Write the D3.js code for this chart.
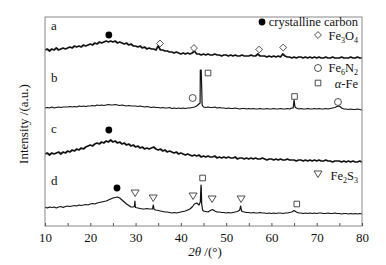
<!DOCTYPE html>
<html>
<head>
<meta charset="utf-8">
<script src="https://cdn.jsdelivr.net/npm/d3@7"></script>
<style>
  body { margin: 0; background: #fff; }
  svg text { font-family: "Liberation Serif", "Times New Roman", serif; fill: #111; }
</style>
</head>
<body>
<div id="chart"></div>
<script>
// 2theta grid, 10..80 every 0.5 deg
const angles = d3.range(10, 80.001, 0.5);
const majorTicks = [10, 20, 30, 40, 50, 60, 70, 80];
const minorTicks = [15, 25, 35, 45, 55, 65, 75];

// curve a (baseline 168)
const seriesA = [
  8,9,7,9,8,10,8,9,10,9,
  10,11,10,12,11,12,11,13,12,13,
  14,13,15,14,16,15,16,17,16,17,
  16,17,15,16,15,14,15,13,14,12,
  12,11,12,10,11,9,10,9,9,8,
  12,8,8,7,7,6,6,5,6,5,
  4,5,4,5,4,5,7,4,4,3,
  4,3,4,3,3,4,3,3,2,3,
  3,2,3,2,3,2,2,3,2,2,
  2,3,2,2,4,2,2,2,1,2,
  1,2,1,2,1,4,2,1,1,0,
  1,0,1,1,0,1,0,1,0,1,
  0,1,0,0,1,0,0,1,0,0,
  0,1,0,0,0,1,0,0,1,0,
  0
];
// curve b (baseline 116)
const seriesB = [
  2,2.5,2,3,2,2.5,3,2.5,3,3,
  3,3.5,3,3.5,3,4,3.5,4,3.5,4,
  4,4.5,4,5,4.5,5,4.5,5,5.5,5,
  5,5.5,5,4.5,5,4.5,4,4.5,4,4,
  4,3.5,4,3.5,3,3.5,3,2.5,3,2.5,
  2.5,2,2.5,2,2,2.5,1.5,2,1.5,2,
  1.5,2,1.5,2,2,2.5,3,4,6,40,
  3,2.5,3,2.5,2.5,3,2,2.5,2,2,
  1.5,2,1.5,1.5,2,1.5,1,1.5,1.5,1,
  1.5,1,1.5,1,1,1.5,1,1,1.5,1,
  1,1.5,1,1,1.5,1,1,1.5,1,2,
  10,2,1,1.5,1,1,1.5,1,1,1.5,
  1,1.5,1,1,1.5,1,1.5,2,2.5,3.5,
  4,2,1,1,0.5,1,0.5,0.5,1,0.5,
  0
];
// curve c (baseline 64)
const seriesC = [
  8,9,7,9,8,9,10,8,10,9,
  11,10,12,11,13,12,14,13,15,16,
  17,16,18,19,18,20,19,21,20,22,
  20,21,19,20,18,19,17,18,16,17,
  15,16,14,15,13,14,13,14,15,13,
  12,13,11,12,10,11,10,9,10,8,
  9,8,7,8,7,6,7,6,7,5,
  6,5,6,5,5,6,4,5,4,5,
  4,5,4,4,5,3,4,4,3,4,
  3,4,3,4,3,3,4,3,2,3,
  3,2,3,2,3,2,2,3,2,2,
  2,1,2,2,1,2,1,2,1,2,
  1,2,1,1,2,1,1,0,1,1,
  1,0,1,0,1,0,1,0,0,1,
  0
];
// curve d (baseline 12)
const seriesD = [
  7,6,7,6.5,7,6,7,7.5,6.5,7.5,
  8,7.5,8,8.5,8,9,8.5,9,9.5,9,
  10,10.5,10,11,11.5,12,12.5,13,14,15,
  16,16.5,17,16,14,12,10,8.5,7,7,
  6.5,6,5.5,5,5,5.5,5,5,7,4,
  3.5,3,2.5,2,2,1.5,1,1.5,1,1.5,
  2,2.5,3,4,5,7,10,11,9,27,
  3,2.5,2,3.5,4.5,3,2,2,1.5,1.5,
  1,1.5,1,1.5,2,2.5,4,2.5,2,1.5,
  1.5,1,1.5,1,1,1.5,1,1,0.5,1,
  0.5,1,0.5,1,1,0.5,1,1,1.5,2,
  3.5,2,1,1,0.5,1,0.5,1,0.5,1,
  0.5,1,1,0.5,0.5,1,0.5,0.5,1,0.5,
  0.5,0,0.5,0.5,0,0.5,0,0.5,0,0.5,
  0
];

// narrow reflections between grid points: [2theta, value]
const peaksA = [];
const peaksB = [[44.25, 7], [44.3, 40], [44.7, 5], [64.8, 2], [65.2, 3]];
const peaksC = [];
const peaksD = [[29.75, 7.5], [29.85, 13], [29.95, 7], [33.75, 5], [33.9, 9], [34.1, 4.5],
                [44.3, 12], [44.45, 29], [44.6, 10], [44.8, 4], [53.2, 8], [53.4, 3.5]];

const offsets = { a: 168, b: 116, c: 64, d: 12 };
const curveNames = ["a", "b", "c", "d"];

// phase markers: [series, 2theta, height above baseline, symbol]
const markers = [
  ["a", 24.1, 23, "carbon"], ["a", 35.4, 14.5, "fe3o4"], ["a", 42.9, 10, "fe3o4"],
  ["a", 57.3, 8.5, "fe3o4"], ["a", 62.6, 10.5, "fe3o4"],
  ["b", 42.6, 12, "fe6n2"], ["b", 46, 37, "fe"], ["b", 65.1, 13.5, "fe"], ["b", 74.7, 8, "fe6n2"],
  ["c", 24.1, 32, "carbon"],
  ["d", 25.9, 26, "carbon"], ["d", 29.9, 21, "fe2s3"], ["d", 33.9, 16, "fe2s3"],
  ["d", 42.7, 18, "fe2s3"], ["d", 44.8, 36, "fe"], ["d", 46.9, 15, "fe2s3"],
  ["d", 53.3, 15, "fe2s3"], ["d", 65.6, 10, "fe"]
];

const width = 386, height = 265;
const margin = { top: 17, right: 24, bottom: 39, left: 45 };

const svg = d3.select("#chart").append("svg")
  .attr("width", width).attr("height", height);

const x = d3.scaleLinear([10, 80], [margin.left, width - margin.right]);
const y = d3.scaleLinear([0, 209], [height - margin.bottom, margin.top]);

function buildCurve(vals, peaks, off) {
  const pts = angles.map((a, i) => [a, vals[i] + off]);
  peaks.forEach(p => pts.push([p[0], p[1] + off]));
  return pts.sort((p, q) => p[0] - q[0]);
}

const curves = [
  buildCurve(seriesA, peaksA, offsets.a),
  buildCurve(seriesB, peaksB, offsets.b),
  buildCurve(seriesC, peaksC, offsets.c),
  buildCurve(seriesD, peaksD, offsets.d)
];

const line = d3.line().x(d => x(d[0])).y(d => y(d[1]));

svg.append("g")
  .selectAll("path")
  .data(curves)
  .join("path")
  .attr("d", line)
  .attr("fill", "none")
  .attr("stroke", "#111")
  .attr("stroke-width", (d, i) => (i == 0 || i == 2) ? 1.7 : 1.2)
  .attr("stroke-linejoin", "round");

// symbols
const symbolPath = {
  carbon: d3.symbol(d3.symbolCircle, 36)(),
  fe3o4: d3.symbol(d3.symbolDiamond2, 30)(),
  fe6n2: d3.symbol(d3.symbolCircle, 38)(),
  fe: d3.symbol(d3.symbolSquare2, 40)(),
  fe2s3: "M-4,-3L4,-3L0,3.5Z"
};

function drawSymbol(g, kind) {
  g.append("path")
    .attr("d", symbolPath[kind])
    .attr("fill", kind == "carbon" ? "#000" : "#fff")
    .attr("stroke", "#222")
    .attr("stroke-width", kind == "carbon" ? 0 : 0.8);
}

svg.append("g")
  .selectAll("g")
  .data(markers)
  .join("g")
  .attr("transform", d => `translate(${x(d[1])},${y(offsets[d[0]] + d[2])})`)
  .each(function(d) { drawSymbol(d3.select(this), d[3]); });

// frame
svg.append("rect")
  .attr("x", margin.left).attr("y", margin.top)
  .attr("width", width - margin.left - margin.right)
  .attr("height", height - margin.bottom - margin.top)
  .attr("fill", "none").attr("stroke", "#888").attr("stroke-width", 1);

// x axis, ticks pointing in
const xAxis = svg.append("g")
  .attr("transform", `translate(0,${height - margin.bottom})`)
  .call(d3.axisBottom(x).tickValues(majorTicks).tickSize(-3).tickPadding(7).tickFormat(d3.format("d")));
xAxis.select(".domain").remove();
xAxis.selectAll("line").attr("stroke", "#555");
xAxis.selectAll("text").attr("font-size", 13).attr("fill", "#111");

const xMinor = svg.append("g")
  .attr("transform", `translate(0,${height - margin.bottom})`)
  .call(d3.axisBottom(x).tickValues(minorTicks).tickSize(-3).tickFormat(""));
xMinor.select(".domain").remove();
xMinor.selectAll("line").attr("stroke", "#555");

// axis titles
const xt = svg.append("text")
  .attr("x", 205).attr("y", 256)
  .attr("text-anchor", "middle")
  .attr("font-size", 13);
xt.append("tspan").attr("font-style", "italic").text("2θ");
xt.append("tspan").text(" /(°)");

svg.append("text")
  .attr("transform", "translate(28,124) rotate(-90)")
  .attr("text-anchor", "middle")
  .attr("font-size", 13)
  .text("Intensity /(a.u.)");

// curve letters
const letterY = { a: 30, b: 82, c: 133, d: 185 };
svg.append("g")
  .selectAll("text")
  .data(curveNames)
  .join("text")
  .attr("x", 51).attr("y", d => letterY[d])
  .attr("font-size", 13)
  .text(d => d);

// legend entries
const legendRight = 358;
function legendEntry(sx, sy, kind, parts, ty) {
  const g = svg.append("g").attr("transform", `translate(${sx},${sy})`);
  drawSymbol(g, kind);
  const t = svg.append("text")
    .attr("x", legendRight).attr("y", ty)
    .attr("text-anchor", "end").attr("font-size", 12.5);
  parts.forEach(p => {
    const s = t.append("tspan").text(p.t);
    if (p.sub) s.attr("font-size", 8).attr("dy", 3);
    if (p.up) s.attr("dy", -3);
    if (p.it) s.attr("font-style", "italic");
  });
}

legendEntry(262, 22, "carbon", [{ t: "crystalline carbon" }], 26);
legendEntry(318, 35, "fe3o4", [{ t: "Fe" }, { t: "3", sub: true }, { t: "O", up: true }, { t: "4", sub: true }], 40);
legendEntry(318, 68, "fe6n2", [{ t: "Fe" }, { t: "6", sub: true }, { t: "N", up: true }, { t: "2", sub: true }], 72);
legendEntry(318, 83, "fe", [{ t: "α", it: true }, { t: "-Fe" }], 88);
legendEntry(318, 174, "fe2s3", [{ t: "Fe" }, { t: "2", sub: true }, { t: "S", up: true }, { t: "3", sub: true }], 180);
</script>
</body>
</html>
